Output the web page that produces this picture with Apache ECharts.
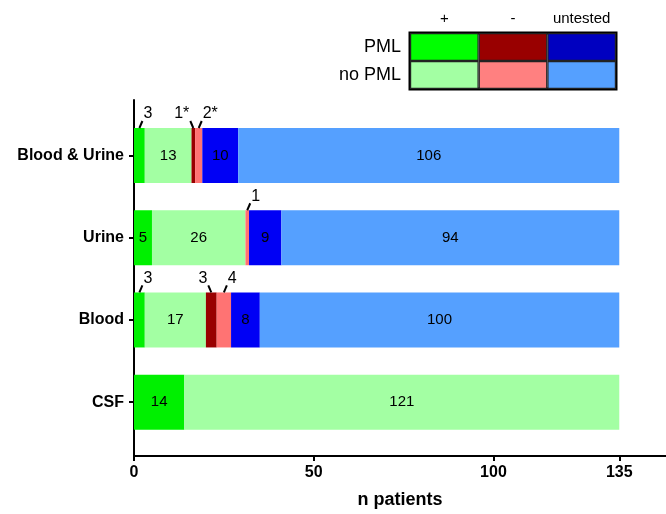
<!DOCTYPE html>
<html><head><meta charset="utf-8">
<script src="https://cdn.jsdelivr.net/npm/echarts@6/dist/echarts.min.js"></script>
<style>html,body{margin:0;padding:0;background:#fff}#c{width:666px;height:514px}</style>
</head><body><div id="c"></div>
<script>
// ---- data ----
const categories = ['Blood & Urine', 'Urine', 'Blood', 'CSF'];
const pmlPositive   = [3, 5, 3, 14];
const noPmlPositive = [13, 26, 17, 121];
const pmlNegative   = [1, 0, 3, 0];
const noPmlNegative = [2, 1, 4, 0];
const pmlUntested   = [10, 9, 8, 0];
const noPmlUntested = [106, 94, 100, 0];
const pmlNegativeMarks   = ['*', '', '', ''];
const noPmlNegativeMarks = ['*', '', '', ''];
const xTickValues = [0, 50, 100, 135];
const legendRows = ['PML', 'no PML'];
const legendCols = ['+', '-', 'untested'];

// ---- style ----
const FONT = '"Liberation Sans", Arial, Helvetica, sans-serif';
const BAR_W = 55;
const X_MAX = 148;
const segments = [
  { name: 'PML +',           data: pmlPositive,   color: '#00f000', side: 1 },
  { name: 'no PML +',        data: noPmlPositive, color: '#a3ffa3', side: 1 },
  { name: 'PML -',           data: pmlNegative,   color: '#990000', side: -1, marks: pmlNegativeMarks },
  { name: 'no PML -',        data: noPmlNegative, color: '#ff7373', side: 1, marks: noPmlNegativeMarks },
  { name: 'PML untested',    data: pmlUntested,   color: '#0000f5', side: 1 },
  { name: 'no PML untested', data: noPmlUntested, color: '#55a0ff', side: 1 }
];
const legendPmlColors   = ['#00ff00', '#990000', '#0000c0'];
const legendNoPmlColors = ['#a3ffa3', '#ff8080', '#55a0ff'];

// annotations for small segments (drawn outside with a leader line)
const annotations = [];
categories.forEach((c, i) => {
  let start = 0;
  segments.forEach(s => {
    const v = s.data[i];
    if (v > 0 && v < 5) {
      annotations.push({
        value: [start + v / 2, i],
        text: String(v) + (s.marks ? s.marks[i] : ''),
        side: s.side
      });
    }
    start += v;
  });
});

const chart = echarts.init(document.getElementById('c'), null, { renderer: 'canvas' });

const barSeries = segments.map(s => ({
  type: 'bar', name: s.name, stack: 'total',
  xAxisIndex: 1, yAxisIndex: 1, barWidth: BAR_W,
  itemStyle: { color: s.color },
  label: {
    show: true, position: 'inside', color: '#000', fontSize: 15, fontFamily: FONT,
    formatter: p => (p.value >= 5 ? String(p.value) : '')
  },
  emphasis: { disabled: true },
  data: s.data
}));

const annotationSeries = {
  type: 'custom', xAxisIndex: 1, yAxisIndex: 1, z: 5,
  data: annotations.map(a => a.value),
  renderItem: (params, api) => {
    const a = annotations[params.dataIndex];
    const p = api.coord([api.value(0), api.value(1)]);
    const top = p[1] - BAR_W / 2;
    const x1 = p[0] + a.side * 3, y1 = top - 7;
    return {
      type: 'group',
      children: [
        { type: 'line', shape: { x1: p[0], y1: top, x2: x1, y2: y1 },
          style: { stroke: '#000', lineWidth: 2 } },
        { type: 'text', x: x1 + a.side * 1, y: top - 6,
          style: { text: a.text, fill: '#000', fontSize: 16, fontFamily: FONT,
                   align: a.side > 0 ? 'left' : 'right', verticalAlign: 'bottom' } }
      ]
    };
  }
};

const legendSeries = legendCols.map((col, j) => ({
  type: 'bar', name: 'legend ' + col, stack: 'legend',
  xAxisIndex: 2, yAxisIndex: 2, barCategoryGap: '0%',
  itemStyle: { borderColor: '#222', borderWidth: 1.2 },
  emphasis: { disabled: true },
  data: [
    { value: 1, itemStyle: { color: legendPmlColors[j] } },
    { value: 1, itemStyle: { color: legendNoPmlColors[j] } }
  ]
}));

const option = {
  animation: false,
  backgroundColor: '#fff',
  textStyle: { fontFamily: FONT },
  grid: [
    { left: 134, right: 0, top: 100, bottom: 57 },                 // axes frame
    { left: 134, right: 0, top: 114.4, bottom: 70.7 },             // bars
    { left: 410, top: 33, width: 206, height: 56, show: true,
      borderColor: '#000', borderWidth: 3, backgroundColor: 'transparent' } // legend table
  ],
  xAxis: [
    { gridIndex: 0, type: 'value', min: 0, max: X_MAX,
      axisLine: { show: true, lineStyle: { color: '#000', width: 2 } },
      axisTick: { show: true, customValues: xTickValues, length: 5, lineStyle: { color: '#000', width: 2 } },
      axisLabel: { show: true, customValues: xTickValues, color: '#000', fontSize: 16, fontWeight: 'bold', margin: 9, fontFamily: FONT },
      splitLine: { show: false },
      name: 'n patients', nameLocation: 'middle', nameGap: 35,
      nameTextStyle: { color: '#000', fontSize: 18, fontWeight: 'bold', fontFamily: FONT } },
    { gridIndex: 1, type: 'value', min: 0, max: X_MAX, show: false },
    { gridIndex: 2, type: 'value', min: 0, max: 3, position: 'top',
      axisLine: { show: false }, axisTick: { show: false }, splitLine: { show: false },
      axisLabel: { show: true, customValues: [0.5, 1.5, 2.5], color: '#000', fontSize: 15, margin: 7, fontFamily: FONT,
        formatter: v => legendCols[Math.floor(v)] } }
  ],
  yAxis: [
    { gridIndex: 0, type: 'value', min: 0, max: 1,
      axisLine: { show: true, lineStyle: { color: '#000', width: 2 } },
      axisTick: { show: false }, axisLabel: { show: false }, splitLine: { show: false } },
    { gridIndex: 1, type: 'category', data: categories, inverse: true,
      axisLine: { show: false },
      axisTick: { show: true, alignWithLabel: true, length: 5, lineStyle: { color: '#000', width: 2 } },
      axisLabel: { color: '#000', fontSize: 16, fontWeight: 'bold', margin: 10, fontFamily: FONT } },
    { gridIndex: 2, type: 'category', data: legendRows, inverse: true,
      axisLine: { show: false }, axisTick: { show: false },
      axisLabel: { color: '#000', fontSize: 18, margin: 9, fontFamily: FONT } }
  ],
  series: [...barSeries, annotationSeries, ...legendSeries]
};
chart.setOption(option);
</script>
</body></html>
